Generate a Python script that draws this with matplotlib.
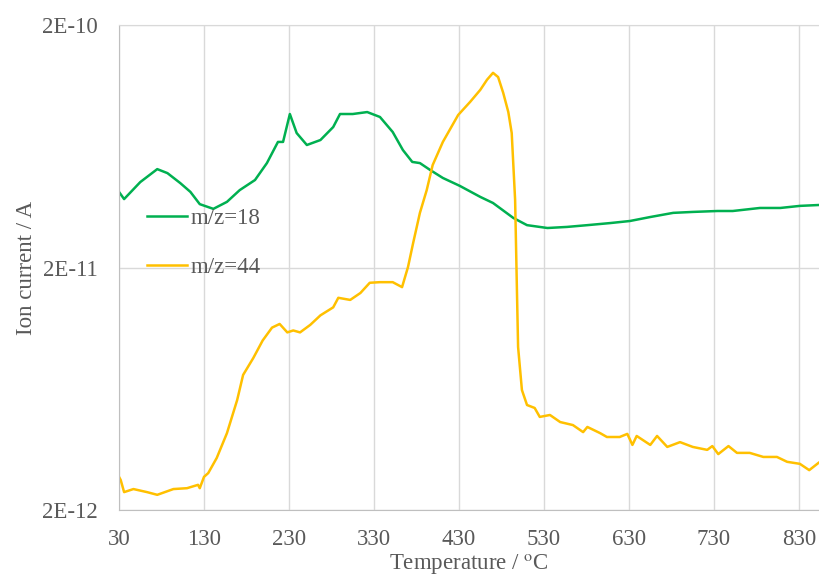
import numpy as np
import matplotlib
matplotlib.use('Agg')
import matplotlib.pyplot as plt
from matplotlib.ticker import FixedLocator, NullLocator

# DATA (ion current in pA)
temp_18 = [30, 36, 55, 75, 87, 102, 114, 125, 141, 157, 172, 190, 204, 217, 223, 231, 239, 251,
           267, 282, 290, 305, 322, 337, 352, 364, 375, 384, 396, 411, 431, 455, 470, 494, 510,
           534, 557, 581, 608, 631, 655, 682, 705, 734, 752, 784, 808, 831, 853]
ion_18 = [41.0, 38.3, 45.0, 50.9, 49.0, 44.6, 41.0, 36.5, 34.9, 37.3, 41.7, 45.9, 53.9, 65.9, 65.9,
          85.9, 71.7, 64.0, 67.1, 75.9, 85.9, 85.9, 87.5, 83.5, 72.4, 61.0, 54.5, 53.9, 50.5, 46.8,
          43.4, 39.1, 36.9, 32.0, 29.9, 29.1, 29.4, 29.9, 30.5, 31.1, 32.3, 33.6, 33.9, 34.2, 34.2,
          35.2, 35.2, 35.9, 36.2]

temp_44 = [30, 32, 36, 47, 63, 75, 94, 110, 123, 125, 130, 135, 145, 157, 169, 176, 188, 199, 210,
           219, 228, 235, 243, 255, 267, 282, 288, 302, 314, 325, 337, 352, 363, 370, 376, 384, 392,
           399, 411, 429, 443, 455, 463, 470, 476, 482, 488, 492, 496, 498, 499.5, 504, 510, 519,
           525, 537, 549, 564, 576, 581, 596, 604, 619, 628, 634, 639, 655, 663, 675, 690, 705,
           722, 728, 735, 747, 757, 772, 788, 804, 816, 831, 842, 853]
ion_44 = [2.74, 2.66, 2.37, 2.44, 2.37, 2.31, 2.44, 2.46, 2.54, 2.46, 2.74, 2.84, 3.28, 4.15, 5.68,
          7.21, 8.47, 10.0, 11.3, 11.7, 10.8, 11.0, 10.8, 11.6, 12.7, 13.7, 15.0, 14.7, 15.7, 17.3,
          17.4, 17.4, 16.6, 20.1, 25.2, 33.6, 41.7, 52.9, 65.9, 85.1, 96.3, 108, 119, 127, 122,
          105, 87.5, 71.7, 38.0, 17.0, 9.4, 6.25, 5.42, 5.27, 4.84, 4.93, 4.61, 4.48, 4.19, 4.40,
          4.15, 4.00, 4.00, 4.12, 3.71, 4.04, 3.71, 4.04, 3.64, 3.81, 3.64, 3.54, 3.67, 3.40,
          3.67, 3.44, 3.44, 3.31, 3.31, 3.16, 3.10, 2.92, 3.13]

x_ticks = [30, 130, 230, 330, 430, 530, 630, 730, 830]
y_ticks = [2e-12, 2e-11, 2e-10]
y_tick_labels = ['2E-12', '2E-11', '2E-10']

plt.rcParams['font.family'] = ['Liberation Serif', 'DejaVu Serif']
plt.rcParams['mathtext.fontset'] = 'stix'
text_col = '#595959'
fs = 16.5

fig = plt.figure(figsize=(8.19, 5.75), dpi=100)
ax = fig.add_axes([119 / 819, 65 / 575, 700 / 819, 485 / 575])

ax.plot(temp_18, np.array(ion_18) * 1e-12, color='#00b050', lw=1.8, label='m/z=18')
ax.plot(temp_44, np.array(ion_44) * 1e-12, color='#ffc000', lw=1.8, label='m/z=44')

ax.set_yscale('log')
ax.set_xlim(30, 853.5)
ax.set_ylim(2e-12, 2e-10)
ax.yaxis.set_major_locator(FixedLocator(y_ticks))
ax.yaxis.set_minor_locator(NullLocator())
ax.set_yticklabels(y_tick_labels)
ax.set_xticks(x_ticks)

ax.grid(True, color='#d9d9d9', lw=1)
ax.set_axisbelow(True)
ax.tick_params(length=0, labelsize=fs, colors=text_col)
ax.tick_params(axis='y', pad=15)
ax.tick_params(axis='x', pad=14)

ax.spines['right'].set_visible(False)
ax.spines['top'].set_color('#d9d9d9')
ax.spines['left'].set_color('#bfbfbf')
ax.spines['bottom'].set_color('#bfbfbf')

ax.set_xlabel('Temperature / $^{\\mathrm{o}}$C', fontsize=fs, color=text_col, labelpad=1)
ax.set_ylabel('Ion current / A', fontsize=fs, color=text_col, labelpad=4)

leg = ax.legend(loc='upper left', bbox_to_anchor=(0.011, 0.665), frameon=False, fontsize=fs,
                handlelength=1.75, handletextpad=0.12, labelspacing=1.2)
for t in leg.get_texts():
    t.set_color(text_col)

fig.savefig('out.png', dpi=100)
